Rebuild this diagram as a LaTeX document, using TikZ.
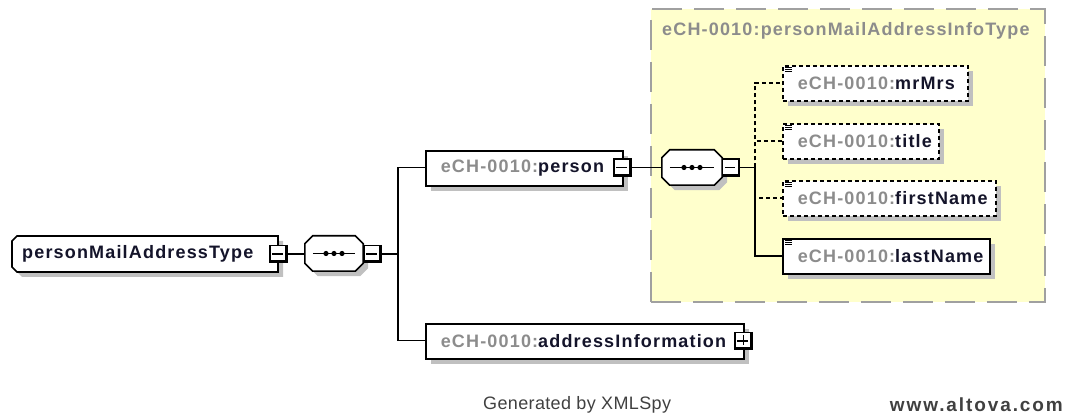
\documentclass[tikz,border=0pt]{standalone}
\usepackage{fontspec}
\setmainfont{Liberation Sans}
\newfontfamily\xs[LetterSpace=6.5]{Liberation Sans}
\newfontfamily\ftr[LetterSpace=2]{Liberation Sans}
\newfontfamily\ftb[LetterSpace=10]{Liberation Sans}
\usetikzlibrary{shadows,calc}
\definecolor{shd}{HTML}{C0C0C0}
\definecolor{pfx}{HTML}{8C8C8C}
\definecolor{namec}{HTML}{14142A}
\definecolor{grpc}{HTML}{A0A0A0}
\definecolor{yel}{HTML}{FFFFCC}
\definecolor{ftc}{HTML}{404040}
\newcommand\simpleicon[1]{%
  \foreach \k in {0,1,2}{\draw[line width=0.9pt] ([xshift=3pt,yshift={-2pt-2.4pt*\k}]#1.north west) -- ++(7pt,0);}}
\newcommand\boxedge[1]{%
  \draw[line width=2.6pt] ([xshift=-1.3pt]#1.north east) -- ([xshift=-1.3pt,yshift=1.3pt]#1.south east) -- ([yshift=1.3pt]#1.south west);}
\begin{document}
\begin{tikzpicture}[x=1pt,y=-1pt,
  shadowed/.style={drop shadow={shadow xshift=5pt,shadow yshift=-5pt,fill=shd,opacity=1}},
  txt/.style={font={\xs\fontsize{18}{20}\selectfont\bfseries},text=namec},
  elem/.style={draw,fill=white,line width=1.6pt,minimum height=35pt,inner xsep=15pt,inner ysep=0pt,
    align=left,anchor=north west,txt,shadowed},
  optelem/.style={elem,dash pattern=on 4pt off 3pt},
  conn/.style={line width=1.6pt},
  optconn/.style={line width=1.6pt,dash pattern=on 4pt off 3pt},
  seqn/.style={inner sep=0pt,minimum width=58pt,minimum height=35pt},
  mbox/.style={draw,fill=white,line width=1.2pt,minimum width=17pt,minimum height=17pt,inner sep=0pt},
  grpbox/.style={draw=grpc,fill=yel,line width=1.8pt,dash pattern=on 30pt off 12pt,anchor=north west,
    minimum width=394pt,minimum height=293pt,inner sep=0pt}
]
\useasboundingbox (0,0) rectangle (1066,419);

% group
\node[grpbox] (grp) at (650,8) {};
\node[anchor=west,inner sep=0pt,txt,text=pfx] (grpt) at (662,31) {eCH-0010:personMailAddressInfoType};

% root
\draw[line width=1.6pt,fill=white,shadowed] (17,236) -- (278,236) -- (278,272) -- (17,272) -- (12,267) -- (12,241) -- cycle;
\node[anchor=west,inner sep=0pt,txt] (root) at (22,254) {personMailAddressType};
\node[mbox] (rm) at (278.5,254) {};
\boxedge{rm}
\draw[line width=1.2pt] ([xshift=3pt]rm.west) -- ([xshift=-5pt]rm.east);

% sequence 1
\node[seqn] (seq1) at (334,253.5) {};
\draw[line width=1.6pt,fill=white,shadowed]
  ([xshift=8pt]seq1.north west) -- ([xshift=-8pt]seq1.north east) -- ([yshift=-8pt]seq1.north east)
  -- ([yshift=8pt]seq1.south east) -- ([xshift=-8pt]seq1.south east) -- ([xshift=8pt]seq1.south west)
  -- ([yshift=8pt]seq1.south west) -- ([yshift=-8pt]seq1.north west) -- cycle;
\draw[line width=1.2pt] ([xshift=8pt]seq1.west) -- ([xshift=-8pt]seq1.east);
\foreach \d in {-8,0,8}{\fill ([xshift=\d pt]seq1.center) circle[radius=2.6pt];}
\node[mbox] (s1m) at (372.5,254) {};
\boxedge{s1m}
\draw[line width=1.2pt] ([xshift=3pt]s1m.west) -- ([xshift=-5pt]s1m.east);

\coordinate (j1) at (398,254);
\draw[conn] (rm.east) -- (rm.east -| seq1.west);
\draw[conn] (s1m.east) -- (j1);
\draw[conn] (j1) |- (425,167.5);
\draw[conn] (j1) |- (425,340.5);

% person
\node[elem,text width=167pt] (person) at (425,150) {\mbox{{\color{pfx}eCH-0010:}person}};
\node[mbox] (pm) at (622.5,167.5) {};
\boxedge{pm}
\draw[line width=1.2pt] ([xshift=3pt]pm.west) -- ([xshift=-5pt]pm.east);

% address information
\node[elem,text width=288pt] (addr) at (425,323) {\mbox{{\color{pfx}eCH-0010:}addressInformation}};
\node[mbox] (am) at (743.5,341) {};
\boxedge{am}
\draw[line width=1.2pt] ([xshift=3pt]am.west) -- ([xshift=-5pt]am.east);
\draw[line width=1.2pt] ([yshift=-3pt]am.north) -- ([yshift=5pt]am.south);

% sequence 2
\node[seqn,minimum width=60pt] (seq2) at (692,167.5) {};
\draw[line width=1.6pt,fill=white,shadowed]
  ([xshift=8pt]seq2.north west) -- ([xshift=-8pt]seq2.north east) -- ([yshift=-8pt]seq2.north east)
  -- ([yshift=8pt]seq2.south east) -- ([xshift=-8pt]seq2.south east) -- ([xshift=8pt]seq2.south west)
  -- ([yshift=8pt]seq2.south west) -- ([yshift=-8pt]seq2.north west) -- cycle;
\draw[line width=1.2pt] ([xshift=8pt]seq2.west) -- ([xshift=-8pt]seq2.east);
\foreach \d in {-8,0,8}{\fill ([xshift=\d pt]seq2.center) circle[radius=2.6pt];}
\node[mbox] (s2m) at (731,167.5) {};
\boxedge{s2m}
\draw[line width=1.2pt] ([xshift=3pt]s2m.west) -- ([xshift=-5pt]s2m.east);

\draw[conn] (pm.east) -- (seq2.west);
\coordinate (j2) at (755,167.5);
\draw[conn] (s2m.east) -- (j2);

% children
\node[optelem,text width=155pt] (mrmrs) at (782,65) {\mbox{{\color{pfx}eCH-0010:}mrMrs}};
\node[optelem,text width=126pt] (title) at (782,123) {\mbox{{\color{pfx}eCH-0010:}title}};
\node[optelem,text width=183pt] (first) at (782,180) {\mbox{{\color{pfx}eCH-0010:}firstName}};
\node[elem,text width=177pt] (last) at (782,238) {\mbox{{\color{pfx}eCH-0010:}lastName}};
\simpleicon{mrmrs}
\simpleicon{title}
\simpleicon{first}
\simpleicon{last}

\draw[optconn] (j2) |- (mrmrs.west);
\draw[optconn] (j2) |- (title.west);
\draw[optconn] (j2) |- (first.west);
\draw[conn] (j2) |- (last.west);

% footer
\node[anchor=west,inner sep=0pt,font={\ftr\fontsize{18}{20}\selectfont},text=ftc] (gen) at (483,405) {Generated by XMLSpy};
\node[anchor=east,inner sep=0pt,font={\ftb\fontsize{19}{20}\selectfont\bfseries},text=ftc] (alt) at (1063,405) {www.altova.com};
\end{tikzpicture}
\end{document}
